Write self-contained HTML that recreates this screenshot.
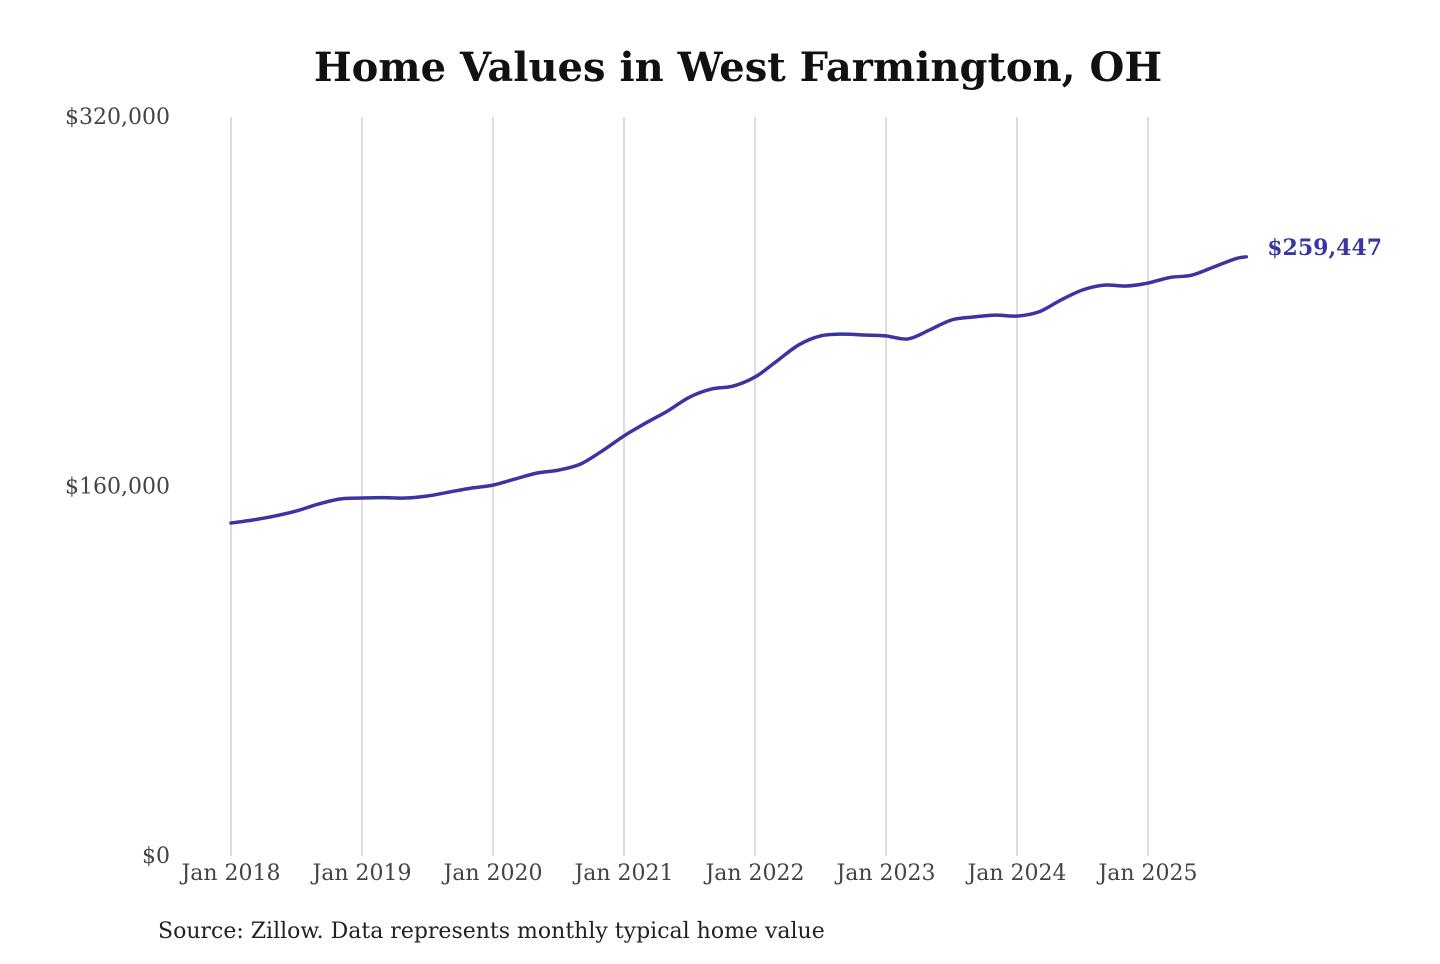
<!DOCTYPE html>
<html><head><meta charset="utf-8"><style>
body{margin:0;background:#fff;width:1440px;height:960px;overflow:hidden;font-family:"DejaVu Serif","Liberation Serif",serif;}
</style></head><body>
<svg id="chart" width="1440" height="960">
<text x="738" y="81" text-anchor="middle" font-size="40" font-weight="bold" fill="#111">Home Values in West Farmington, OH</text>
<g id="grid"></g><g id="ylabels"></g><g id="xlabels"></g>
<path id="line" fill="none" stroke="#3a35a0" stroke-width="3.5" stroke-linejoin="round" stroke-linecap="round"></path>
<text id="endlabel" font-size="22" font-weight="bold" fill="#3a35a0"></text>
<text x="158" y="938" font-size="22" fill="#222">Source: Zillow. Data represents monthly typical home value</text>
</svg>
<script>
const months=[0,2,4,6,8,10,12,14,16,18,20,22,24,26,28,30,32,34,36,38,40,42,44,46,48,50,52,54,56,58,60,62,64,66,68,70,72,74,76,78,80,82,84,86,88,90,92,93];
const values=[144200,145500,147200,149400,152400,154600,155000,155200,155000,155900,157600,159300,160600,163200,165800,167100,169700,175400,181900,187500,192700,198700,202200,203500,207400,214300,221300,225200,226000,225600,225200,223900,227800,232100,233400,234200,233800,235600,240700,245100,247200,246800,248100,250500,251500,255000,258600,259447];
const yTicks=[0,160000,320000];
const yTickLabels=["$0","$160,000","$320,000"];
const xTickMonths=[0,12,24,36,48,60,72,84];
const xTickLabels=["Jan 2018","Jan 2019","Jan 2020","Jan 2021","Jan 2022","Jan 2023","Jan 2024","Jan 2025"];
const NS="http://www.w3.org/2000/svg";
const x=m=>231+m*131/12;
const y=v=>856-v*(739/320000);
const g=document.getElementById('grid'),yl=document.getElementById('ylabels'),xl=document.getElementById('xlabels');
xTickMonths.forEach((m,i)=>{
 const l=document.createElementNS(NS,'line');
 l.setAttribute('x1',x(m));l.setAttribute('x2',x(m));l.setAttribute('y1',117);l.setAttribute('y2',856);
 l.setAttribute('stroke','#c8c8c8');l.setAttribute('stroke-width','1.2');
 
 
 g.appendChild(l);
 const t=document.createElementNS(NS,'text');
 t.setAttribute('x',x(m));t.setAttribute('y',880);t.setAttribute('text-anchor','middle');
 t.setAttribute('font-size','22');t.setAttribute('fill','#444');t.textContent=xTickLabels[i];
 
 
 xl.appendChild(t);
});
yTicks.forEach((v,i)=>{
 const t=document.createElementNS(NS,'text');
 t.setAttribute('x',170);t.setAttribute('y',y(v)+7);t.setAttribute('text-anchor','end');
 t.setAttribute('font-size','22');t.setAttribute('fill','#444');t.textContent=yTickLabels[i];
 
 
 yl.appendChild(t);
});
const P=months.map((m,i)=>[x(m),y(values[i])]);
let d=`M${P[0][0]},${P[0][1]}`;
for(let i=0;i<P.length-1;i++){
 const p0=P[Math.max(0,i-1)],p1=P[i],p2=P[i+1],p3=P[Math.min(P.length-1,i+2)];
 const c1=[p1[0]+(p2[0]-p0[0])/6,p1[1]+(p2[1]-p0[1])/6],c2=[p2[0]-(p3[0]-p1[0])/6,p2[1]-(p3[1]-p1[1])/6];
 d+=`C${c1[0]},${c1[1]} ${c2[0]},${c2[1]} ${p2[0]},${p2[1]}`;
}
document.getElementById('line').setAttribute('d',d);
const el=document.getElementById('endlabel'),last=P[P.length-1];
el.setAttribute('x',last[0]+21);el.setAttribute('y',last[1]-2);
el.textContent='$'+values[values.length-1].toLocaleString('en-US');
</script>
</body></html>
